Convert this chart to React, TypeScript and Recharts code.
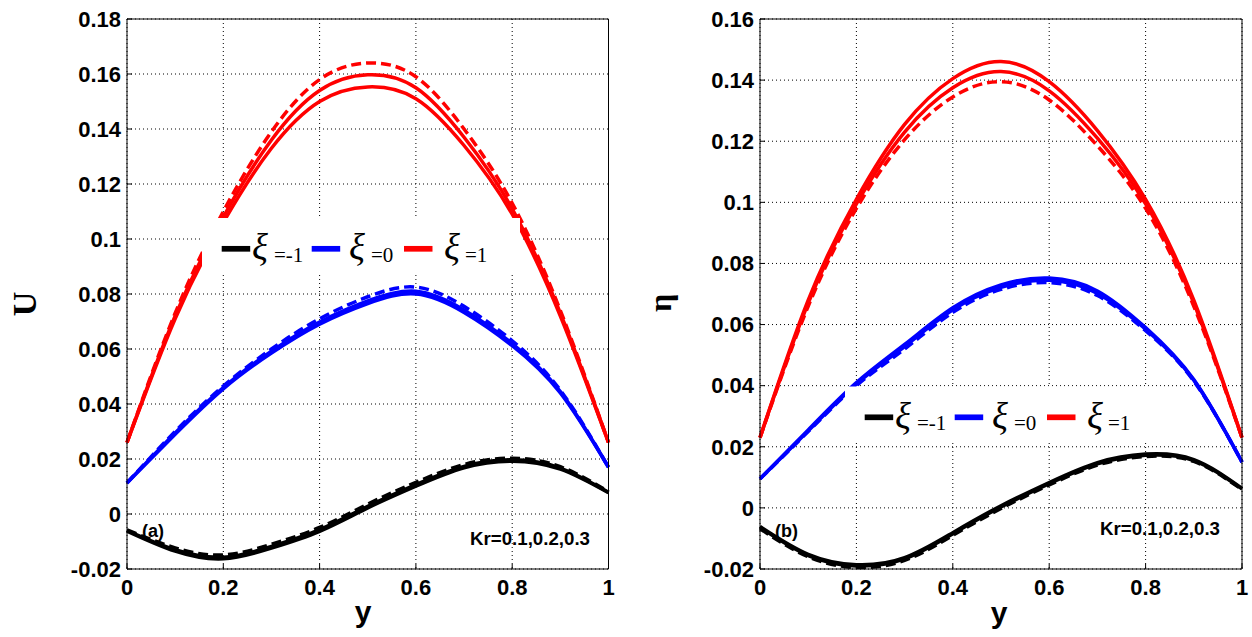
import { LineChart, Line, XAxis, YAxis, CartesianGrid } from "recharts";

// sample positions along y (x-axis of both panels)
const yPts = [0, 0.1, 0.2, 0.3, 0.4, 0.5, 0.6, 0.7, 0.8, 0.9, 1];
const xTicks = [0, 0.2, 0.4, 0.6, 0.8, 1];
const uTicks = [-0.02, 0, 0.02, 0.04, 0.06, 0.08, 0.1, 0.12, 0.14, 0.16, 0.18];
const etaTicks = [-0.02, 0, 0.02, 0.04, 0.06, 0.08, 0.1, 0.12, 0.14, 0.16];

// panel (a): U, Kr = 0.1 (dashed), 0.2, 0.3
const uRed1 = [0.026, 0.073, 0.11, 0.139, 0.158, 0.164, 0.159, 0.14, 0.113, 0.074, 0.026];
const uRed2 = [0.026, 0.072, 0.108, 0.136, 0.154, 0.1597, 0.155, 0.137, 0.111, 0.073, 0.026];
const uRed3 = [0.026, 0.071, 0.106, 0.133, 0.15, 0.1553, 0.151, 0.134, 0.109, 0.072, 0.026];
const uBlue1 = [0.0113, 0.03, 0.0465, 0.06, 0.071, 0.079, 0.0825, 0.0755, 0.063, 0.045, 0.017];
const uBlue2 = [0.0113, 0.0295, 0.046, 0.0592, 0.0698, 0.0775, 0.081, 0.0742, 0.062, 0.0445, 0.017];
const uBlue3 = [0.0113, 0.029, 0.0455, 0.0585, 0.069, 0.0765, 0.08, 0.0733, 0.0612, 0.044, 0.017];
const uBlack1 = [-0.0058, -0.0123, -0.0149, -0.011, -0.0049, 0.0036, 0.0115, 0.018, 0.0203, 0.0172, 0.0081];
const uBlack2 = [-0.006, -0.013, -0.0157, -0.0118, -0.0057, 0.0028, 0.0107, 0.0173, 0.0197, 0.0167, 0.0079];
const uBlack3 = [-0.0062, -0.0135, -0.0163, -0.0124, -0.0063, 0.0022, 0.0101, 0.0168, 0.0192, 0.0163, 0.0077];

// panel (b): eta
const eRed1 = [0.023, 0.066, 0.098, 0.1205, 0.1345, 0.1395, 0.1335, 0.1185, 0.098, 0.066, 0.023];
const eRed2 = [0.023, 0.067, 0.0995, 0.123, 0.1375, 0.1428, 0.1365, 0.121, 0.0995, 0.067, 0.023];
const eRed3 = [0.023, 0.068, 0.101, 0.1255, 0.1405, 0.1461, 0.1395, 0.1235, 0.101, 0.068, 0.023];
const eBlue1 = [0.0095, 0.025, 0.04, 0.052, 0.064, 0.0715, 0.0737, 0.0695, 0.058, 0.0415, 0.015];
const eBlue2 = [0.0095, 0.0252, 0.0405, 0.0528, 0.0648, 0.0722, 0.0745, 0.0702, 0.0585, 0.0418, 0.015];
const eBlue3 = [0.0095, 0.0255, 0.041, 0.0535, 0.0655, 0.073, 0.0752, 0.071, 0.059, 0.042, 0.015];
const eBlack1 = [-0.0068, -0.016, -0.0195, -0.0172, -0.009, -0.0002, 0.0075, 0.014, 0.0168, 0.0152, 0.006];
const eBlack2 = [-0.0064, -0.0156, -0.019, -0.0167, -0.0085, 0.0003, 0.0079, 0.0144, 0.0172, 0.0155, 0.0062];
const eBlack3 = [-0.0061, -0.0152, -0.0186, -0.0163, -0.0081, 0.0007, 0.0083, 0.0148, 0.0176, 0.0158, 0.0064];

const legendItems = [
  { color: "#000000", xi: "=-1" },
  { color: "#0000ff", xi: "=0" },
  { color: "#ff0000", xi: "=1" },
];

const SERIES = [
  { key: "r1", color: "#ff0000", dash: true },
  { key: "r2", color: "#ff0000", dash: false },
  { key: "r3", color: "#ff0000", dash: false },
  { key: "b1", color: "#0000ff", dash: true },
  { key: "b2", color: "#0000ff", dash: false },
  { key: "b3", color: "#0000ff", dash: false },
  { key: "k1", color: "#000000", dash: true },
  { key: "k2", color: "#000000", dash: false },
  { key: "k3", color: "#000000", dash: false },
];

function buildRows(cols: number[][]) {
  const keys = ["r1", "r2", "r3", "b1", "b2", "b3", "k1", "k2", "k3"];
  return yPts.map((y, i) => {
    const row: Record<string, number> = { y };
    keys.forEach((k, j) => (row[k] = cols[j][i]));
    return row;
  });
}

const rowsU = buildRows([uRed1, uRed2, uRed3, uBlue1, uBlue2, uBlue3, uBlack1, uBlack2, uBlack3]);
const rowsEta = buildRows([eRed1, eRed2, eRed3, eBlue1, eBlue2, eBlue3, eBlack1, eBlack2, eBlack3]);

const fmt = (v: number) => String(parseFloat(v.toFixed(2)));
const tickFont = { fontSize: 22, fontWeight: "bold", fill: "#000", fontFamily: "'Liberation Sans', Arial, sans-serif" };

function Panel({ rows, ticks, left, yAxisW, rightM }: { rows: any[]; ticks: number[]; left: number; yAxisW: number; rightM: number }) {
  const dom: [number, number] = [ticks[0], ticks[ticks.length - 1]];
  return (
    <div style={{ position: "absolute", left, top: 0 }}>
      <LineChart width={626} height={637} data={rows} margin={{ top: 18, right: rightM, bottom: 28, left: 0 }}>
        <CartesianGrid stroke="#000" strokeDasharray="1 3" />
        <XAxis
          dataKey="y"
          type="number"
          domain={[0, 1]}
          ticks={xTicks}
          interval={0}
          tickFormatter={fmt}
          height={40}
          tickSize={-5}
          tickMargin={15}
          stroke="#000"
          tick={tickFont}
        />
        <XAxis xAxisId="top" orientation="top" dataKey="y" type="number" domain={[0, 1]} ticks={xTicks} interval={0} height={1} tickSize={-5} tick={false} stroke="#000" />
        <YAxis
          type="number"
          domain={dom}
          ticks={ticks}
          interval={0}
          tickFormatter={fmt}
          width={yAxisW}
          tickSize={-5}
          tickMargin={11}
          stroke="#000"
          tick={tickFont}
        />
        <YAxis yAxisId="right" orientation="right" type="number" domain={dom} ticks={ticks} interval={0} width={1} tickSize={-5} tick={false} stroke="#000" />
        {SERIES.map((s) => (
          <Line
            key={s.key}
            dataKey={s.key}
            type="natural"
            stroke={s.color}
            strokeWidth={3.5}
            strokeDasharray={s.dash ? "10 5" : undefined}
            dot={false}
            isAnimationActive={false}
          />
        ))}
      </LineChart>
    </div>
  );
}

const serif = "'Liberation Serif', 'Times New Roman', serif";
const sans = "'Liberation Sans', Arial, sans-serif";

function LegendBox({ dx, dy }: { dx: number; dy: number }) {
  const lineX = [221.7, 311.7, 404];
  const xiX = [252, 349, 444];
  const txtX = [274, 371, 465];
  return (
    <g transform={`translate(${dx},${dy})`}>
      <rect x={202} y={218} width={318} height={55} fill="#fff" />
      {legendItems.map((it, i) => (
        <g key={i}>
          <line x1={lineX[i]} x2={lineX[i] + 28.5} y1={248.8} y2={248.8} stroke={it.color} strokeWidth={5.7} />
          <text x={xiX[i]} y={260} fontFamily={serif} fontStyle="italic" fontSize={37} fill="#000">
            ξ
          </text>
          <text x={txtX[i]} y={261.5} fontFamily={serif} fontSize={21} fill="#000">
            {it.xi}
          </text>
        </g>
      ))}
    </g>
  );
}

export default function App() {
  return (
    <div style={{ position: "absolute", left: 0, top: 0, width: 1252, height: 637, background: "#fff" }}>
      <Panel rows={rowsU} ticks={uTicks} left={0} yAxisW={127} rightM={16.5} />
      <Panel rows={rowsEta} ticks={etaTicks} left={626} yAxisW={134} rightM={9} />
      <svg width={1252} height={637} style={{ position: "absolute", left: 0, top: 0, pointerEvents: "none" }}>
        <LegendBox dx={0} dy={0} />
        <LegendBox dx={643} dy={168.5} />
        <text transform="translate(36,304) rotate(-90)" textAnchor="middle" fontFamily={serif} fontWeight="bold" fontSize={34} fill="#000">
          U
        </text>
        <text transform="translate(671,303) rotate(-90)" textAnchor="middle" fontFamily={serif} fontWeight="bold" fontSize={32} fill="#000">
          η
        </text>
        <text x={363} y={622} textAnchor="middle" fontFamily={sans} fontWeight="bold" fontSize={30} fill="#000">
          y
        </text>
        <text x={999} y={623} textAnchor="middle" fontFamily={sans} fontWeight="bold" fontSize={30} fill="#000">
          y
        </text>
        <text x={142} y={537} fontFamily={sans} fontWeight="bold" fontSize={18} fill="#000">
          (a)
        </text>
        <text x={775} y={537} fontFamily={sans} fontWeight="bold" fontSize={18} fill="#000">
          (b)
        </text>
        <text x={470} y={545} fontFamily={sans} fontWeight="bold" fontSize={19} textLength={120} lengthAdjust="spacingAndGlyphs" fill="#000">
          Kr=0.1,0.2,0.3
        </text>
        <text x={1100} y={535} fontFamily={sans} fontWeight="bold" fontSize={19} textLength={120} lengthAdjust="spacingAndGlyphs" fill="#000">
          Kr=0.1,0.2,0.3
        </text>
      </svg>
    </div>
  );
}
